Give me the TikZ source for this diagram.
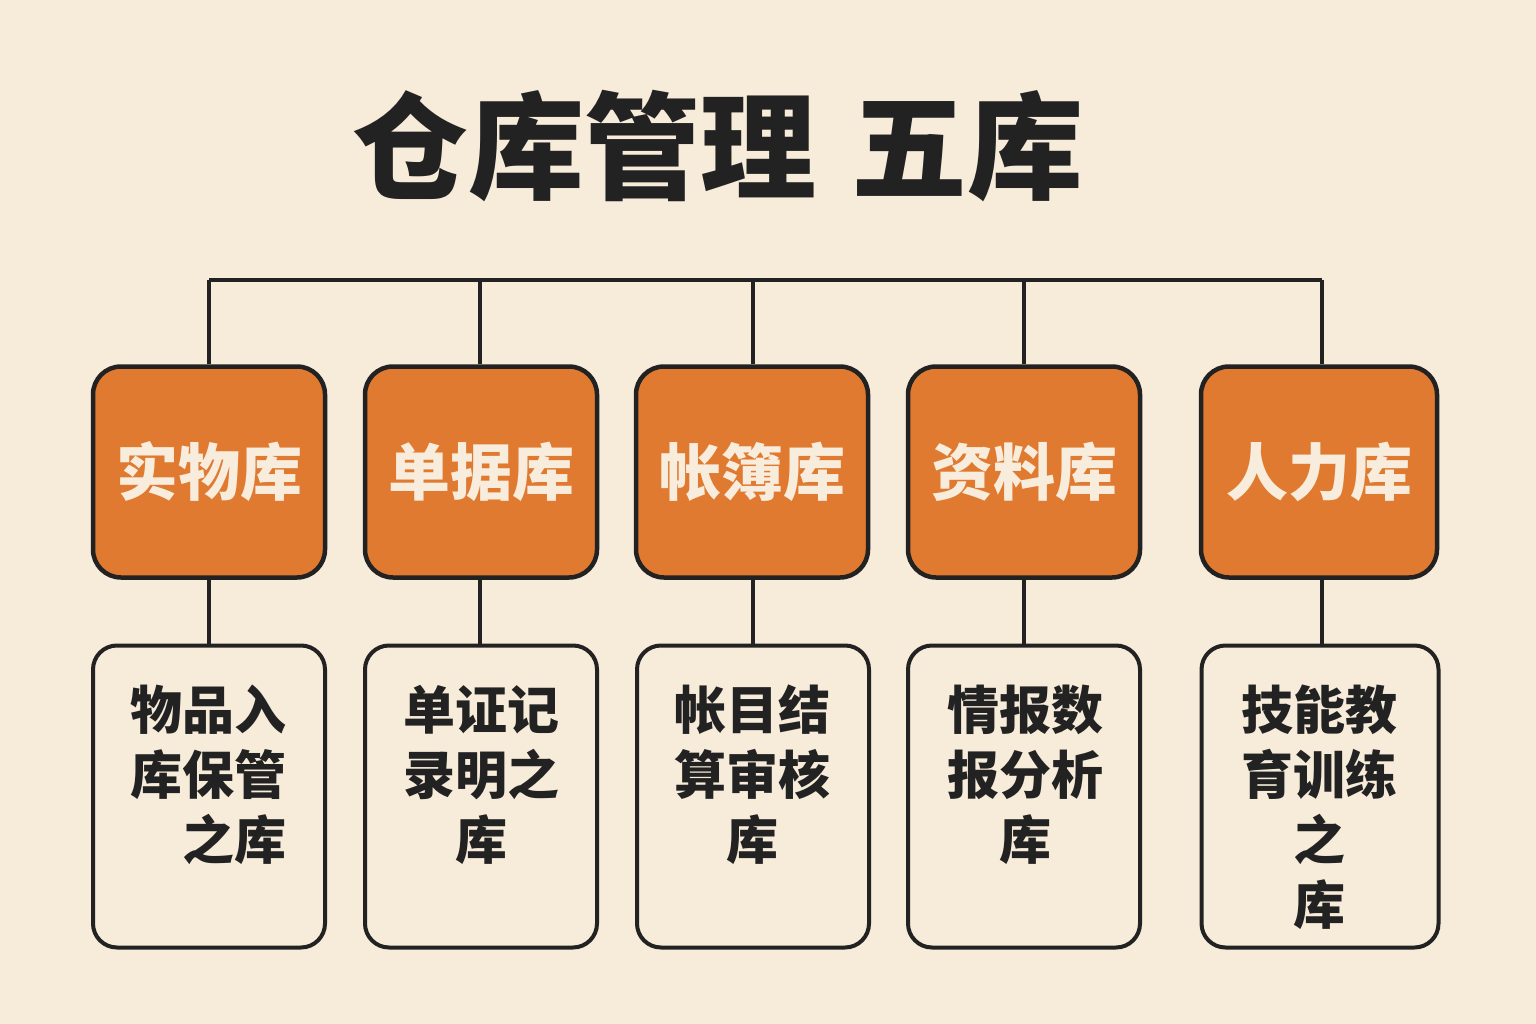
\documentclass[tikz,border=0pt]{standalone}
\usepackage{fontspec}
\newfontfamily\cjk{Noto Sans CJK SC}
\definecolor{bgc}{HTML}{F7EBDA}
\definecolor{orng}{HTML}{E07A30}
\definecolor{ink}{HTML}{222222}
\definecolor{cream}{HTML}{F8ECDC}
\tikzset{
  topbox/.style={draw=ink, line width=4.5pt, fill=orng, rounded corners=28pt,
    minimum width=232pt, minimum height=211pt, inner sep=0pt,
    text=cream, font=\cjk\bfseries\fontsize{62}{70}\selectfont},
  subbox/.style={draw=ink, line width=4pt, fill=bgc, rounded corners=24pt,
    minimum width=232pt, minimum height=302pt, inner sep=0pt},
  subtext/.style={anchor=north, inner sep=0pt, text=ink,
    font=\cjk\bfseries\fontsize{52}{65}\selectfont},
  link/.style={draw=ink, line width=3.5pt},
}
\begin{document}
\begin{tikzpicture}[x=1pt,y=-1pt]
\fill[bgc] (0,0) rectangle (1536,1024);
\useasboundingbox (0,0) rectangle (1536,1024);

\node[text=ink, font=\cjk\bfseries\fontsize{116}{120}\selectfont, inner sep=0pt] (title) at (718,146) {仓库管理\hspace{36pt}五库};

% bus
\coordinate (b1) at (209,280);
\coordinate (b5) at (1322,280);
\draw[link] (b1) -- (b5);

\node[topbox] (t1) at (209,472) {实物库};
\node[topbox] (t2) at (481,472) {单据库};
\node[topbox] (t3) at (752,472) {帐簿库};
\node[topbox] (t4) at (1024,472) {资料库};
\node[topbox, minimum width=236pt] (t5) at (1319,472) {人力库};

\node[subbox] (s1) at (209,796.5) {};
\node[subbox] (s2) at (481,796.5) {};
\node[subbox] (s3) at (753,796.5) {};
\node[subbox] (s4) at (1024,796.5) {};
\node[subbox, minimum width=237pt] (s5) at (1320,796.5) {};

\node[subtext, align=right] (l1) at (208,685) {物品入\\库保管\\之库};
\node[subtext, align=center] (l2) at (481,685) {单证记\\录明之\\库};
\node[subtext, align=center] (l3) at (752,685) {帐目结\\算审核\\库};
\node[subtext, align=center] (l4) at (1025,685) {情报数\\报分析\\库};
\node[subtext, align=center] (l5) at (1319,685) {技能教\\育训练\\之\\库};

\foreach \i/\xx in {1/209,2/480,3/753,4/1024,5/1322}{
  \coordinate (c\i) at (\xx,280);
}
\draw[link] (c1) -- (c1 |- t1.north);
\draw[link] (c2) -- (c2 |- t2.north);
\draw[link] (c3) -- (c3 |- t3.north);
\draw[link] (c4) -- (c4 |- t4.north);
\draw[link] (c5) -- (c5 |- t5.north);
\draw[link] (c1 |- t1.south) -- (c1 |- s1.north);
\draw[link] (c2 |- t2.south) -- (c2 |- s2.north);
\draw[link] (c3 |- t3.south) -- (c3 |- s3.north);
\draw[link] (c4 |- t4.south) -- (c4 |- s4.north);
\draw[link] (c5 |- t5.south) -- (c5 |- s5.north);
\end{tikzpicture}
\end{document}
